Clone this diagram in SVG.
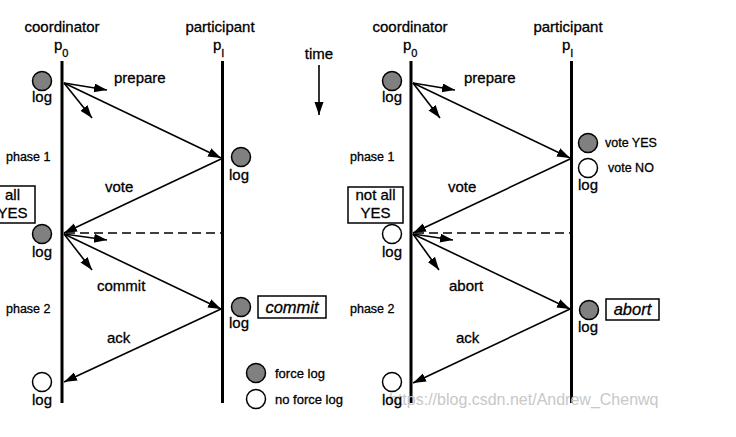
<svg xmlns="http://www.w3.org/2000/svg" width="736" height="437" viewBox="0 0 736 437">
<style>
text{font-family:"Liberation Sans",Arial,sans-serif;fill:#000;stroke:#000;stroke-width:0.3}
.t{font-size:15px}
.s{font-size:12.5px}
.m{font-size:13px}
.i{font-size:16.5px;font-style:italic}
.mid{text-anchor:middle}
.tl{stroke:#000;stroke-width:3}
.ar{stroke:#000;stroke-width:1.6;fill:none;marker-end:url(#ah)}
.da{stroke:#000;stroke-width:1.6;stroke-dasharray:9 5;fill:none}
.f{fill:#808080;stroke:#000;stroke-width:1.5}
.e{fill:#fff;stroke:#000;stroke-width:1.5}
.bx{fill:#fff;stroke:#000;stroke-width:1.5}
text.wm{font-size:16px;fill:#c8c8c8;stroke:none}
</style>
<defs>
<marker id="ah" markerUnits="userSpaceOnUse" markerWidth="14" markerHeight="10" refX="13" refY="4.5" orient="auto">
<path d="M0,0 L13,4.5 L0,9 z" fill="#000"/>
</marker>
</defs>
<rect width="736" height="437" fill="#fff"/>

<!-- LEFT PANEL -->
<g id="left-coordinator">
<text class="t mid" x="62" y="32">coordinator</text>
<text class="t" x="54" y="50">p<tspan font-size="11" dy="7">0</tspan></text>
<line class="tl" x1="62" y1="61" x2="62" y2="403"/>
</g>
<g id="left-participant">
<text class="t mid" x="220" y="32">participant</text>
<text class="t" x="213" y="50">p<tspan font-size="11" dy="7">I</tspan></text>
<line class="tl" x1="222.5" y1="61" x2="222.5" y2="403"/>
</g>
<g id="time">
<text class="t mid" x="319" y="59">time</text>
<line class="ar" x1="319" y1="65" x2="319" y2="115"/>
</g>
<g id="left-log1"><circle class="f" cx="42" cy="81" r="9.5"/><text class="t mid" x="42" y="102">log</text></g>
<g id="left-phase1"><text class="s" x="6" y="161">phase 1</text></g>
<g id="left-plog1"><circle class="f" cx="241" cy="157" r="9.5"/><text class="t mid" x="239" y="180">log</text></g>
<g id="left-allyes"><rect class="bx" x="-10" y="186" width="45" height="37"/><text class="t mid" x="12.5" y="200">all</text><text class="t mid" x="12.5" y="218">YES</text></g>
<g id="left-log2"><circle class="f" cx="42" cy="234" r="9.5"/><text class="t mid" x="42" y="257">log</text></g>
<g id="left-phase2"><text class="s" x="6" y="313">phase 2</text></g>
<g id="left-plog2"><circle class="f" cx="241" cy="307" r="9.5"/><text class="t mid" x="239" y="328">log</text></g>
<g id="left-commitbox"><rect class="bx" x="258" y="296" width="68" height="22"/><text class="i mid" x="292" y="313">commit</text></g>
<g id="left-log3"><circle class="e" cx="42" cy="382" r="9.5"/><text class="t mid" x="42" y="405">log</text></g>
<g id="legend">
<circle class="f" cx="256" cy="373" r="9.5"/><text class="m" x="275" y="378">force log</text>
<circle class="e" cx="256" cy="399" r="9.5"/><text class="m" x="275" y="404">no force log</text>
</g>

<!-- RIGHT PANEL -->
<g id="right-coordinator">
<text class="t mid" x="410" y="32">coordinator</text>
<text class="t" x="403" y="50">p<tspan font-size="11" dy="7">0</tspan></text>
<line class="tl" x1="411" y1="61" x2="411" y2="403"/>
</g>
<g id="right-participant">
<text class="t mid" x="568" y="32">participant</text>
<text class="t" x="562" y="50">p<tspan font-size="11" dy="7">I</tspan></text>
<line class="tl" x1="571.5" y1="61" x2="571.5" y2="403"/>
</g>
<g id="right-log1"><circle class="f" cx="392" cy="81" r="9.5"/><text class="t mid" x="392" y="102">log</text></g>
<g id="right-phase1"><text class="s" x="350" y="161">phase 1</text></g>
<g id="right-vote">
<circle class="f" cx="588" cy="143" r="9.5"/><text class="s" x="605" y="147">vote YES</text>
<circle class="e" cx="588" cy="168" r="9.5"/><text class="s" x="608" y="172">vote NO</text>
<text class="t mid" x="588" y="190">log</text>
</g>
<g id="right-notallyes"><rect class="bx" x="348" y="187" width="55" height="36"/><text class="t mid" x="375.5" y="200">not all</text><text class="t mid" x="375.5" y="218">YES</text></g>
<g id="right-log2"><circle class="e" cx="392" cy="234" r="9.5"/><text class="t mid" x="392" y="257">log</text></g>
<g id="right-phase2"><text class="s" x="350" y="313">phase 2</text></g>
<g id="right-plog2"><circle class="f" cx="589" cy="310" r="9.5"/><text class="t mid" x="588" y="332">log</text></g>
<g id="right-abortbox"><rect class="bx" x="606" y="299" width="53" height="21"/><text class="i mid" x="632.5" y="315">abort</text></g>

<g id="connectors">
<line class="ar" x1="64" y1="83" x2="107" y2="90"/>
<line class="ar" x1="64" y1="83" x2="92" y2="118"/>
<line class="ar" x1="64" y1="83" x2="221" y2="158"/>
<line class="ar" x1="221" y1="159" x2="64" y2="233"/>
<line class="da" x1="66" y1="233" x2="222" y2="233"/>
<line class="ar" x1="64" y1="234" x2="107" y2="240"/>
<line class="ar" x1="64" y1="234" x2="92" y2="270"/>
<line class="ar" x1="64" y1="234" x2="221" y2="309"/>
<line class="ar" x1="221" y1="309" x2="64" y2="382"/>

<line class="ar" x1="413" y1="83" x2="455" y2="90"/>
<line class="ar" x1="413" y1="83" x2="440" y2="118"/>
<line class="ar" x1="413" y1="83" x2="570" y2="158"/>
<line class="ar" x1="570" y1="159" x2="413" y2="233"/>
<line class="da" x1="415" y1="233" x2="571" y2="233"/>
<line class="ar" x1="413" y1="234" x2="453" y2="240"/>
<line class="ar" x1="413" y1="234" x2="439" y2="270"/>
<line class="ar" x1="413" y1="234" x2="570" y2="309"/>
<line class="ar" x1="570" y1="309" x2="413" y2="383"/>
</g>

<g id="labels">
<text class="t" x="114" y="83">prepare</text>
<text class="t" x="105" y="192">vote</text>
<text class="t" x="97" y="291">commit</text>
<text class="t" x="107" y="343">ack</text>
<text class="t" x="464" y="83">prepare</text>
<text class="t" x="448" y="192">vote</text>
<text class="t" x="449" y="291">abort</text>
<text class="t" x="456" y="343">ack</text>
</g>
<text class="wm" x="389" y="405">https://blog.csdn.net/Andrew_Chenwq</text>
<g id="right-log3"><circle class="e" cx="392" cy="382" r="9.5"/><text class="t mid" x="392" y="405">log</text></g>
</svg>
